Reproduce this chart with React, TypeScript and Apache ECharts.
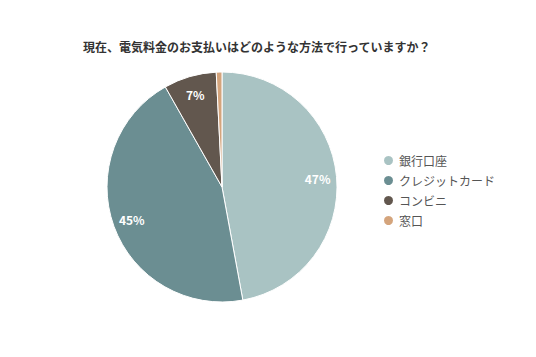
import React, { useEffect, useRef } from "react";
import * as echarts from "echarts";

const titleText = "現在、電気料金のお支払いはどのような方法で行っていますか？";
const categories = ["銀行口座", "クレジットカード", "コンビニ", "窓口"];
const values = [47.1, 44.7, 7.4, 0.8];
const colors = ["#a9c3c3", "#6b8e92", "#62574e", "#d4a47c"];

export default function App() {
  const ref = useRef<HTMLDivElement>(null);
  useEffect(() => {
    if (!ref.current) return;
    const chart = echarts.init(ref.current, undefined, { renderer: "svg" });
    const data = categories.map((name, i) => ({ name, value: values[i] }));
    const font = "'Noto Sans CJK JP', 'Noto Sans', sans-serif";
    chart.setOption({
      animation: false,
      backgroundColor: "#ffffff",
      color: colors,
      title: {
        text: titleText,
        left: 78,
        top: 35,
        textStyle: { fontSize: 12, fontWeight: "bold", color: "#333", fontFamily: font },
      },
      legend: {
        orient: "vertical",
        left: 377,
        top: 149,
        icon: "circle",
        itemWidth: 11,
        itemHeight: 11,
        itemGap: 7,
        data: categories,
        textStyle: { fontSize: 12, color: "#555", fontFamily: font },
      },
      series: [
        {
          type: "pie",
          center: [222, 187],
          radius: 115,
          startAngle: 90,
          clockwise: true,
          data,
          itemStyle: { borderColor: "#fff", borderWidth: 1 },
          label: { show: false },
          labelLine: { show: false },
          emphasis: { disabled: true },
        },
        {
          type: "pie",
          center: [222, 187],
          radius: [82, 104],
          startAngle: 90,
          clockwise: true,
          silent: true,
          data,
          itemStyle: { color: "rgba(0,0,0,0)" },
          label: {
            show: true,
            position: "inside",
            color: "#fff",
            fontSize: 12,
            fontWeight: "bold",
            fontFamily: font,
            formatter: (p: any) => (p.percent >= 3 ? Math.round(p.value) + "%" : ""),
          },
          labelLine: { show: false },
          emphasis: { disabled: true },
          tooltip: { show: false },
        },
      ],
    });
    return () => chart.dispose();
  }, []);
  return (
    <div
      ref={ref}
      style={{ position: "fixed", left: 0, top: 0, width: 536, height: 357 }}
    />
  );
}
